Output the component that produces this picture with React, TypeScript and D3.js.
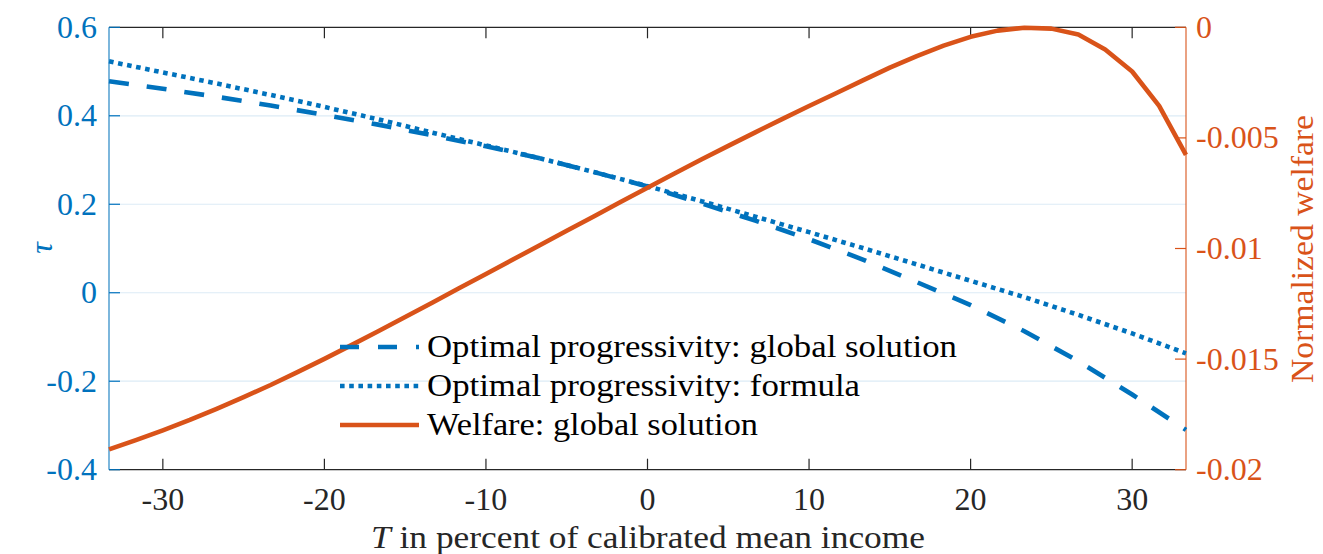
import React from "react";
import * as d3 from "d3";

const tauT = [-33.33, -30, -26.67, -23.33, -20, -16.67, -13.33, -10, -6.67, -3.33, 0, 3.33, 6.67, 10, 13.33, 16.67, 20, 23.33, 26.67, 30, 33.33];
const tauGlobal = [0.478, 0.461, 0.443, 0.423, 0.402, 0.38, 0.356, 0.331, 0.304, 0.273, 0.24, 0.202, 0.163, 0.121, 0.075, 0.024, -0.028, -0.087, -0.155, -0.23, -0.31];
const tauFormula = [0.523, 0.498, 0.473, 0.447, 0.42, 0.392, 0.362, 0.333, 0.304, 0.273, 0.241, 0.207, 0.172, 0.137, 0.101, 0.064, 0.027, -0.01, -0.05, -0.092, -0.137];

const welfareT = [-33.33, -31.67, -30, -28.33, -26.67, -25, -23.33, -21.67, -20, -18.33, -16.67, -15, -13.33, -11.67, -10, -8.33, -6.67, -5, -3.33, -1.67, 0, 1.67, 3.33, 5, 6.67, 8.33, 10, 11.67, 13.33, 15, 16.67, 18.33, 20, 21.67, 23.33, 25, 26.67, 28.33, 30, 31.67, 33.33];
const welfare = [-0.01908, -0.01866, -0.01822, -0.01775, -0.01725, -0.01672, -0.01617, -0.01559, -0.01499, -0.01437, -0.01374, -0.0131, -0.01245, -0.0118, -0.01115, -0.0105, -0.00985, -0.0092, -0.00855, -0.0079, -0.00725, -0.00661, -0.00598, -0.00536, -0.00475, -0.00415, -0.00356, -0.00298, -0.0024, -0.00182, -0.0013, -0.00083, -0.00043, -0.00015, -0.00002, -0.00006, -0.00033, -0.001, -0.002, -0.00355, -0.00577];

const xTicks = [-30, -20, -10, 0, 10, 20, 30];
const yLeftTicks = [-0.4, -0.2, 0, 0.2, 0.4, 0.6];
const yLeftLabels = ["-0.4", "-0.2", "0", "0.2", "0.4", "0.6"];
const yRightTicks = [-0.02, -0.015, -0.01, -0.005, 0];
const yRightLabels = ["-0.02", "-0.015", "-0.01", "-0.005", "0"];

const legendLabels = [
  "Optimal progressivity: global solution",
  "Optimal progressivity: formula",
  "Welfare: global solution",
];

const BLUE = "#0072BD";
const ORANGE = "#D95319";
const DARK = "#262626";
const GRID = "#DCEBF6";
const FONT = '"Liberation Serif", "DejaVu Serif", serif';

export default function App() {
  const L = 109, R = 1186, TOP = 27.3, BOT = 469.7;
  const x = d3.scaleLinear().domain([-33.333, 33.333]).range([L, R]);
  const yL = d3.scaleLinear().domain([-0.4, 0.6]).range([BOT, TOP]);
  const yR = d3.scaleLinear().domain([-0.02, 0]).range([BOT, TOP]);

  const lineL = d3
    .line<number>()
    .x((_, i) => x(tauT[i]))
    .y((d) => yL(d));
  const lineR = d3
    .line<number>()
    .x((_, i) => x(welfareT[i]))
    .y((d) => yR(d));

  const tickLen = 11;
  const lw = 4.6;

  const legendY = [347, 386, 425];
  const legendX0 = 340, legendX1 = 419, legendTextX = 427;
  const legendWidths = [530, 433, 331];
  const ts = { fontFamily: FONT };

  return (
    <svg
      width={1323}
      height={554}
      style={{ position: "absolute", left: 0, top: 0, background: "#fff", fontFamily: FONT }}
    >
      <rect x={0} y={0} width={1323} height={554} fill="#fff" />
      {yLeftTicks
        .filter((t) => t > -0.4 && t < 0.6)
        .map((t) => (
          <line key={"g" + t} x1={L} x2={R} y1={yL(t)} y2={yL(t)} stroke={GRID} strokeWidth={1.2} />
        ))}

      <line x1={L} x2={R} y1={TOP} y2={TOP} stroke={DARK} strokeWidth={1.2} />
      <line x1={L} x2={R} y1={BOT} y2={BOT} stroke={DARK} strokeWidth={1.2} />
      {xTicks.map((t) => (
        <g key={"xt" + t}>
          <line x1={x(t)} x2={x(t)} y1={BOT} y2={BOT - tickLen} stroke={DARK} strokeWidth={1.2} />
          <line x1={x(t)} x2={x(t)} y1={TOP} y2={TOP + tickLen} stroke={DARK} strokeWidth={1.2} />
          <text style={ts} x={x(t)} y={510} textAnchor="middle" fontSize={32} fill={DARK}>
            {String(t)}
          </text>
        </g>
      ))}

      <line x1={L} x2={L} y1={TOP} y2={BOT} stroke={BLUE} strokeWidth={1.2} opacity={0.85} />
      {yLeftTicks.map((t, i) => (
        <g key={"yl" + t}>
          <line x1={L} x2={L + tickLen} y1={yL(t)} y2={yL(t)} stroke={BLUE} strokeWidth={1.2} />
          <text style={ts} x={97} y={yL(t) + 10.5} textAnchor="end" fontSize={32} fill={BLUE}>
            {yLeftLabels[i]}
          </text>
        </g>
      ))}
      <text
        style={ts}
        transform={`translate(52,248) rotate(-90)`}
        textAnchor="middle"
        fontSize={32}
        fontStyle="italic"
        fill={BLUE}
      >
        τ
      </text>

      <line x1={R} x2={R} y1={TOP} y2={BOT} stroke={ORANGE} strokeWidth={1.2} opacity={0.9} />
      {yRightTicks.map((t, i) => (
        <g key={"yr" + t}>
          <line x1={R} x2={R - tickLen} y1={yR(t)} y2={yR(t)} stroke={ORANGE} strokeWidth={1.2} />
          <text style={ts} x={1196} y={yR(t) + 10.5} textAnchor="start" fontSize={32} fill={ORANGE}>
            {yRightLabels[i]}
          </text>
        </g>
      ))}
      <text
        style={ts}
        transform={`translate(1313,249) rotate(-90)`}
        textAnchor="middle"
        fontSize={32}
        fill={ORANGE}
        textLength={268}
        lengthAdjust="spacingAndGlyphs"
      >
        Normalized welfare
      </text>

      <text style={ts} x={371} y={548} fontSize={32} fill={DARK} textLength={554} lengthAdjust="spacingAndGlyphs">
        <tspan fontStyle="italic">T</tspan> in percent of calibrated mean income
      </text>

      <path d={lineL(tauGlobal) || ""} fill="none" stroke={BLUE} strokeWidth={lw} strokeDasharray="20,18" />
      <path d={lineL(tauFormula) || ""} fill="none" stroke={BLUE} strokeWidth={lw} strokeDasharray="4.6,4.6" />
      <path d={lineR(welfare) || ""} fill="none" stroke={ORANGE} strokeWidth={lw} strokeLinejoin="round" />

      <line x1={legendX0} x2={legendX1} y1={legendY[0]} y2={legendY[0]} stroke={BLUE} strokeWidth={lw} strokeDasharray="19,19" />
      <line x1={legendX0} x2={legendX1} y1={legendY[1]} y2={legendY[1]} stroke={BLUE} strokeWidth={lw} strokeDasharray="4.6,4.6" />
      <line x1={legendX0} x2={legendX1} y1={legendY[2]} y2={legendY[2]} stroke={ORANGE} strokeWidth={lw} />
      {legendLabels.map((s, i) => (
        <text
          key={s}
          style={ts}
          x={legendTextX}
          y={legendY[i] + 10}
          fontSize={32}
          fill="#000"
          textLength={legendWidths[i]}
          lengthAdjust="spacingAndGlyphs"
        >
          {s}
        </text>
      ))}
    </svg>
  );
}
